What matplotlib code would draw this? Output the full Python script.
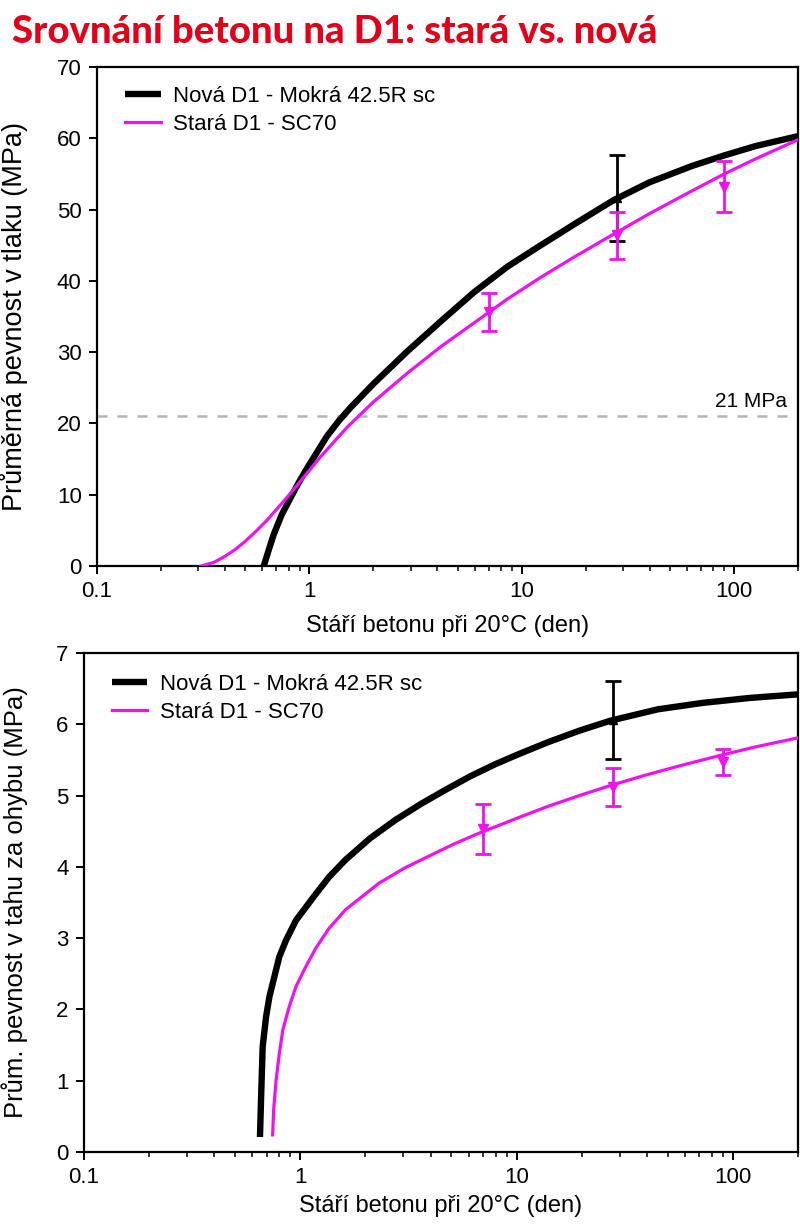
import matplotlib.pyplot as plt

plt.rcParams['font.family'] = ['Liberation Sans', 'DejaVu Sans']

# --- data ---
# compressive strength curves (age in days, MPa)
age_new_c = [0.61, 0.646, 0.679, 0.741, 0.813, 0.891, 0.975, 1.21, 1.38, 1.56, 2.01, 2.89, 4.15,
             5.96, 8.57, 12.3, 17.8, 27.0, 39.8, 63.1, 90.0, 126.0, 200.0]
str_new_c = [0.0, 2.4, 4.4, 7.2, 9.5, 11.7, 13.7, 18.2, 20.4, 22.2, 25.6, 30.1, 34.3,
             38.4, 42.0, 45.0, 48.0, 51.3, 53.8, 56.1, 57.6, 58.9, 60.3]
age_old_c = [0.309, 0.355, 0.398, 0.447, 0.501, 0.562, 0.631, 0.708, 0.794, 0.891, 1.0, 1.12, 1.26,
             1.51, 2.0, 2.88, 4.17, 6.03, 8.51, 12.3, 17.8, 26.9, 39.8, 63.1, 90.0, 126.0, 200.0]
str_old_c = [0.0, 0.5, 1.3, 2.3, 3.5, 4.9, 6.4, 8.1, 9.8, 11.6, 13.4, 15.2, 16.9,
             19.5, 23.0, 27.0, 30.8, 34.2, 37.4, 40.5, 43.4, 46.5, 49.4, 52.6, 55.0, 57.1, 59.8]

# measured compressive strength (mean, +/-)
pt_age_new_c = [28]
pt_new_c = [51.6]
err_new_c = [6.0]
pt_age_old_c = [7, 28, 90]
pt_old_c = [35.6, 46.4, 53.2]
err_old_c = [2.7, 3.3, 3.6]

# flexural strength curves
age_new_f = [0.651, 0.659, 0.67, 0.695, 0.72, 0.80, 0.859, 0.955, 1.18, 1.36, 1.62, 2.1, 2.76, 3.6,
             4.69, 6.1, 7.97, 10.2, 14.0, 19.5, 27.1, 45.0, 72.4, 120.0, 200.0]
str_new_f = [0.21, 0.78, 1.48, 1.90, 2.18, 2.74, 2.97, 3.25, 3.62, 3.86, 4.10, 4.40, 4.66, 4.88,
             5.08, 5.27, 5.44, 5.58, 5.75, 5.91, 6.05, 6.21, 6.30, 6.37, 6.42]
age_old_f = [0.745, 0.753, 0.773, 0.80, 0.83, 0.889, 0.955, 1.06, 1.18, 1.36, 1.62, 2.31, 3.02,
             3.93, 5.13, 6.68, 10.2, 14.0, 19.5, 27.1, 39.8, 58.9, 86.5, 126.0, 200.0]
str_old_f = [0.24, 0.59, 1.01, 1.38, 1.71, 2.04, 2.32, 2.60, 2.86, 3.14, 3.40, 3.77, 3.98,
             4.15, 4.32, 4.47, 4.69, 4.85, 5.00, 5.14, 5.29, 5.43, 5.56, 5.68, 5.81]

pt_age_new_f = [28]
pt_new_f = [6.06]
err_new_f = [0.55]
pt_age_old_f = [7, 28, 90]
pt_old_f = [4.53, 5.12, 5.47]
err_old_f = [0.35, 0.26, 0.18]

label_new = 'Nová D1 - Mokrá 42.5R sc'
label_old = 'Stará D1 - SC70'
xlabel = 'Stáří betonu při 20°C (den)'

BLACK = '#000000'
MAGENTA = '#f010f0'

fig = plt.figure(figsize=(8, 12.32), dpi=100)
ax1 = fig.add_axes([97 / 800, 1 - 566 / 1232, 701 / 800, 499 / 1232])
ax2 = fig.add_axes([84 / 800, 1 - 1152 / 1232, 714 / 800, 499 / 1232])

fig.text(12 / 800, 1 - 32 / 1232, 'Srovnání betonu na D1: stará vs. nová', color='#e2001a',
         fontsize=27.5, fontweight='black', family='Lato', ha='left', va='center')


def style_axis(ax, ymax, ylabel, ylabel_size, xlab_y, ylab_x):
    ax.set_xscale('log')
    ax.set_xlim(0.1, 200)
    ax.set_ylim(0, ymax)
    ax.set_xticks([0.1, 1, 10, 100])
    ax.set_xticklabels(['0.1', '1', '10', '100'])
    for s in ax.spines.values():
        s.set_linewidth(1.6)
    ax.tick_params(which='major', direction='out', length=6, width=1.4, labelsize=16, pad=5)
    ax.tick_params(which='minor', direction='out', length=3.5, width=1.1)
    ax.set_xlabel(xlabel, fontsize=17)
    ax.set_ylabel(ylabel, fontsize=ylabel_size)
    ax.xaxis.set_label_coords(0.5, xlab_y)
    ax.yaxis.set_label_coords(ylab_x, 0.5)


def add_legend(ax, x0, y0):
    ax.legend(loc='upper left', frameon=False, fontsize=16, handlelength=1.6, handletextpad=0.55,
              borderpad=0, borderaxespad=0, bbox_to_anchor=(x0, y0), labelspacing=0.3)


# compressive strength
ax1.axhline(21, color='#b4b4b4', lw=1.8, ls=(0, (4, 4)), zorder=1)
ax1.text(0.985, 21.7, '21 MPa', transform=ax1.get_yaxis_transform(), ha='right', va='bottom', fontsize=15)
ax1.plot(age_new_c, str_new_c, color=BLACK, lw=4.6, label=label_new, solid_capstyle='butt', zorder=3)
ax1.plot(age_old_c, str_old_c, color=MAGENTA, lw=2.3, label=label_old, zorder=4)
ax1.errorbar(pt_age_new_c, pt_new_c, yerr=err_new_c, fmt='^', color=BLACK, ms=6,
             elinewidth=2, capsize=6, capthick=2, zorder=5)
ax1.errorbar(pt_age_old_c, pt_old_c, yerr=err_old_c, fmt='v', color=MAGENTA, ms=7,
             elinewidth=2, capsize=6, capthick=2, zorder=6)
style_axis(ax1, 70, 'Průměrná pevnost v tlaku (MPa)', 19.5, -0.098, -0.098)
add_legend(ax1, 0.04, 0.962)

# flexural strength
ax2.plot(age_new_f, str_new_f, color=BLACK, lw=4.6, label=label_new, solid_capstyle='butt', zorder=3)
ax2.plot(age_old_f, str_old_f, color=MAGENTA, lw=2.3, label=label_old, zorder=4)
ax2.errorbar(pt_age_new_f, pt_new_f, yerr=err_new_f, fmt='^', color=BLACK, ms=6,
             elinewidth=2, capsize=6, capthick=2, zorder=5)
ax2.errorbar(pt_age_old_f, pt_old_f, yerr=err_old_f, fmt='v', color=MAGENTA, ms=7,
             elinewidth=2, capsize=6, capthick=2, zorder=6)
style_axis(ax2, 7, 'Prům. pevnost v tahu za ohybu (MPa)', 18.5, -0.086, -0.078)
add_legend(ax2, 0.039, 0.958)

fig.savefig('out.png', dpi=100)
